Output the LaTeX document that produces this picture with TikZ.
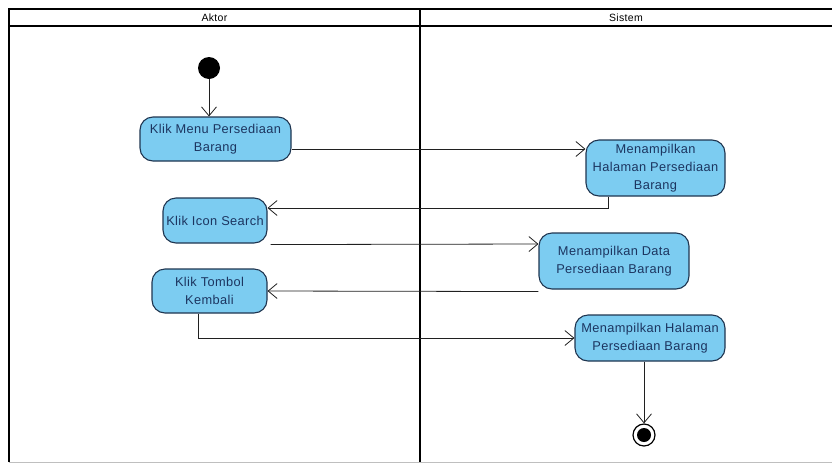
\documentclass[tikz,border=0pt]{standalone}
\usepackage{fontspec}
\setmainfont[LetterSpace=3]{Liberation Sans}
\usetikzlibrary{arrows.meta,calc}
\definecolor{actfill}{HTML}{7CCCF1}
\definecolor{actdraw}{HTML}{1F3550}
\definecolor{acttext}{HTML}{1C3560}
\definecolor{flow}{HTML}{202020}
\begin{document}
\begin{tikzpicture}[x=1pt,y=-1pt,
  activity/.style={draw=actdraw,line width=1.1pt,fill=actfill,rounded corners=13pt,
    text=acttext,align=center,inner sep=0pt,
    font=\fontsize{12.8}{18}\selectfont},
  flowline/.style={draw=flow,line width=0.8pt,-{Straight Barb[length=9pt,width=15pt,line width=0.8pt]}},
  lanetitle/.style={font=\fontsize{10.5}{12}\selectfont,text=black}]
\useasboundingbox (0,0) rectangle (832,464);

% swimlane frame (runs off the right edge)
\begin{scope}
\clip (0,0) rectangle (832,464);
\draw[line width=1.5pt] (9,462) -- (9,9) -- (845,9);
\draw[line width=1.5pt] (9,26) -- (845,26);
\draw[line width=1.5pt] (420,9) -- (420,462);
\draw[line width=0.6pt,black!25] (9,462) -- (845,462);
\end{scope}
\node[lanetitle] (laneA) at (214.5,17.5) {Aktor};
\node[lanetitle] (laneS) at (626,17.5) {Sistem};

% initial and final nodes
\node[circle,fill=black,minimum size=22pt,inner sep=0pt] (start) at (209,68) {};
\node[circle,draw=black,line width=1.2pt,fill=white,minimum size=22pt,inner sep=0pt] (stop) at (644,435) {};
\node[circle,fill=black,minimum size=14pt,inner sep=0pt] (stopdot) at (644,435) {};

% activities
\node[activity,minimum width=151pt,minimum height=44pt] (n1) at (215.5,139) {Klik Menu Persediaan\\Barang};
\node[activity,minimum width=139pt,minimum height=56pt] (s1) at (655.5,168) {Menampilkan\\Halaman Persediaan\\Barang};
\node[activity,minimum width=104pt,minimum height=45pt] (n2) at (215,220.5) {Klik Icon Search};
\node[activity,minimum width=150pt,minimum height=56pt] (s2) at (614,261) {Menampilkan Data\\Persediaan Barang};
\node[activity,minimum width=115pt,minimum height=44pt] (n3) at (209.5,291) {Klik Tombol\\Kembali};
\node[activity,minimum width=150pt,minimum height=46pt] (s3) at (650,338) {Menampilkan Halaman\\Persediaan Barang};

% control flows
\coordinate (c1) at (608,208);
\coordinate (c2) at (198,338);
\draw[flowline] (start) -- (n1.north -| start);
\draw[flowline] (n1.east |- 0,149) -- (s1.west |- 0,149);
\draw[flowline] (s1.south -| c1) -- (c1) -- (c1 -| n2.east);
\draw[flowline] ($(n2.south east)+(3,1)$) -- (s2.west |- 0,244);
\draw[flowline] ($(s2.south west)+(0,2)$) -- (n3.east |- 0,291);
\draw[flowline] (n3.south -| c2) -- (c2) -- (c2 -| s3.west);
\draw[flowline] (s3.south -| stop) -- (stop);
\end{tikzpicture}
\end{document}
